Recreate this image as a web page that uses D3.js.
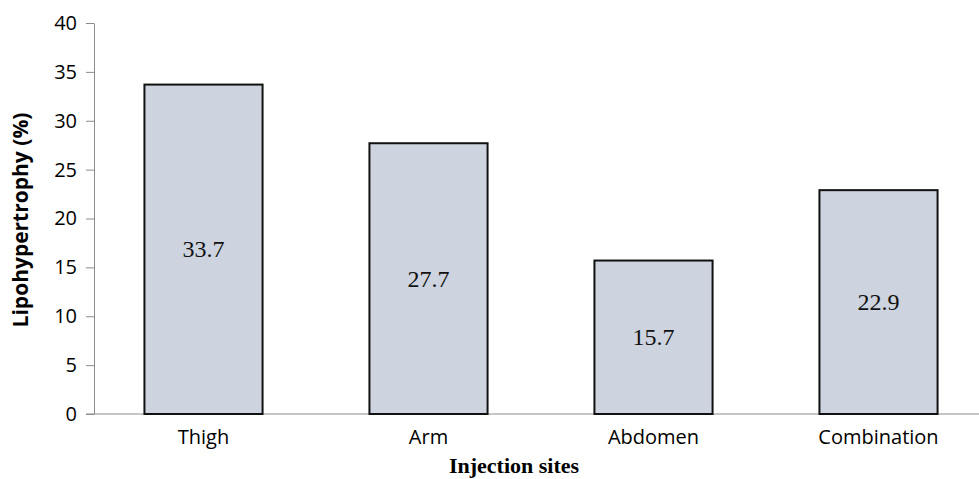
<!DOCTYPE html>
<html><head><meta charset="utf-8">
<script src="https://cdn.jsdelivr.net/npm/d3@7"></script>
<style>body{margin:0;background:#fff}svg{display:block}</style>
</head><body>
<svg id="c" width="979" height="479"></svg>
<script>
const categories = ["Thigh", "Arm", "Abdomen", "Combination"];
const values = [33.7, 27.7, 15.7, 22.9];
const yTicks = [0, 5, 10, 15, 20, 25, 30, 35, 40];

const svg = d3.select("#c");
const x = d3.scaleBand().domain(categories).range([91, 991]).paddingInner(0.475).paddingOuter(0.2375);
const y = d3.scaleLinear().domain([0, 40]).range([414, 23]);
const sans = "'Open Sans', 'Liberation Sans', sans-serif";

// y axis
const ya = svg.append("g").attr("transform", "translate(94,0)")
  .call(d3.axisLeft(y).tickValues(yTicks).tickSize(8).tickSizeOuter(0).tickPadding(9));
ya.select(".domain").attr("stroke", "#8c8c8c");
ya.selectAll(".tick line").attr("stroke", "#8c8c8c");
ya.selectAll("text").attr("font-family", sans).attr("font-size", 20).attr("fill", "#000");

// x axis line
svg.append("line").attr("x1", 86).attr("x2", 979).attr("y1", y(0)).attr("y2", y(0)).attr("stroke", "#8c8c8c");

// bars
svg.append("g").selectAll("rect").data(values).join("rect")
  .attr("x", (d, i) => x(categories[i]))
  .attr("width", x.bandwidth())
  .attr("y", d => y(d))
  .attr("height", d => y(0) - y(d))
  .attr("fill", "#cdd4df").attr("stroke", "#111").attr("stroke-width", 2);

// value labels
svg.append("g").selectAll("text").data(values).join("text")
  .attr("x", (d, i) => x(categories[i]) + x.bandwidth() / 2)
  .attr("y", d => (y(d) + y(0)) / 2 + 8)
  .attr("text-anchor", "middle")
  .attr("font-family", "'Liberation Serif', 'Times New Roman', serif")
  .attr("font-size", 24).attr("fill", "#111")
  .text(d => d.toFixed(1));

// category labels
svg.append("g").selectAll("text").data(categories).join("text")
  .attr("x", d => x(d) + x.bandwidth() / 2)
  .attr("y", 444)
  .attr("text-anchor", "middle")
  .attr("font-family", sans).attr("font-size", 20).attr("fill", "#000")
  .text(d => d);

// axis titles
svg.append("text").attr("x", 514).attr("y", 473).attr("text-anchor", "middle")
  .attr("font-family", "'Liberation Serif', 'Times New Roman', serif")
  .attr("font-weight", "bold").attr("font-size", 22).text("Injection sites");
svg.append("text").attr("transform", "translate(28,220) rotate(-90)").attr("text-anchor", "middle")
  .attr("font-family", sans).attr("font-weight", "bold").attr("font-size", 21).text("Lipohypertrophy (%)");
</script>
</body></html>
